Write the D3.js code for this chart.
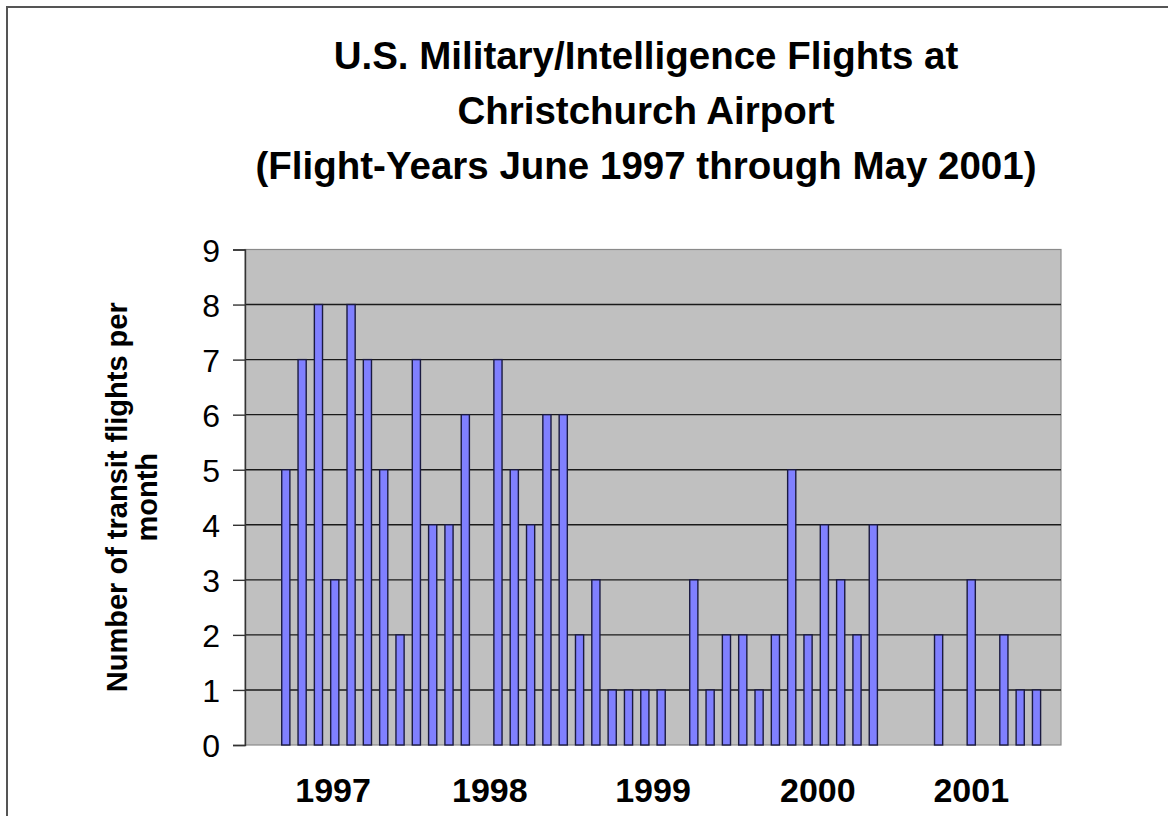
<!DOCTYPE html>
<html>
<head>
<meta charset="utf-8">
<script src="https://cdn.jsdelivr.net/npm/d3@7"></script>
<style>
    body { margin: 0; background: #ffffff; }
    text { font-family: "Liberation Sans", Arial, sans-serif; }
</style>
</head>
<body>
<svg id="chart" width="1168" height="816"></svg>
<script>
// DATA: slots Apr 1997 .. May 2001 (first two slots are empty in the source chart)
const months = [
    "Apr 97", "May 97", "Jun 97", "Jul 97", "Aug 97", "Sep 97", "Oct 97", "Nov 97", "Dec 97",
    "Jan 98", "Feb 98", "Mar 98", "Apr 98", "May 98", "Jun 98", "Jul 98", "Aug 98", "Sep 98",
    "Oct 98", "Nov 98", "Dec 98", "Jan 99", "Feb 99", "Mar 99", "Apr 99", "May 99", "Jun 99",
    "Jul 99", "Aug 99", "Sep 99", "Oct 99", "Nov 99", "Dec 99", "Jan 00", "Feb 00", "Mar 00",
    "Apr 00", "May 00", "Jun 00", "Jul 00", "Aug 00", "Sep 00", "Oct 00", "Nov 00", "Dec 00",
    "Jan 01", "Feb 01", "Mar 01", "Apr 01", "May 01"
];
const flights = [
    0, 0, 5, 7, 8, 3, 8, 7, 5, 2,
    7, 4, 4, 6, 0, 7, 5, 4, 6, 6,
    2, 3, 1, 1, 1, 1, 0, 3, 1, 2,
    2, 1, 2, 5, 2, 4, 3, 2, 4, 0,
    0, 0, 2, 0, 3, 0, 2, 1, 1, 0
];
const yTicks = [0, 1, 2, 3, 4, 5, 6, 7, 8, 9];
const yearLabels = ["1997", "1998", "1999", "2000", "2001"];
const yearSlots = [5.4, 15, 25, 35.1, 44.5];
const titleLines = [
    "U.S. Military/Intelligence Flights at",
    "Christchurch Airport",
    "(Flight-Years June 1997 through May 2001)"
];
const yTitleLines = ["Number of transit flights per", "month"];

const plot = { left: 245, right: 1061, top: 249.5, bottom: 745 };

const svg = d3.select("#chart");

// outer frame
svg.append("rect")
    .attr("x", 7)
    .attr("y", 7)
    .attr("width", 1168)
    .attr("height", 830)
    .attr("fill", "none")
    .attr("stroke", "#555555")
    .attr("stroke-width", 2);

// SCALES:
const x = d3.scaleBand()
    .domain(months)
    .range([plot.left, plot.right])
    .paddingInner(0.5)
    .paddingOuter(0.25);

const slotX = d3.scaleLinear()
    .domain([0, months.length])
    .range([plot.left, plot.right]);

const y = d3.scaleLinear()
    .domain([0, 9])
    .range([plot.bottom, plot.top]);

// plot background
svg.append("rect")
    .attr("x", plot.left)
    .attr("y", plot.top)
    .attr("width", plot.right - plot.left)
    .attr("height", plot.bottom - plot.top)
    .attr("fill", "#c0c0c0")
    .attr("stroke", "#8a8a8a")
    .attr("stroke-width", 1.2);

// gridlines
svg.append("g")
    .selectAll("line")
    .data(yTicks.filter(d => d > 0 && d < 9))
    .join("line")
        .attr("x1", plot.left)
        .attr("x2", plot.right)
        .attr("y1", d => y(d))
        .attr("y2", d => y(d))
        .attr("stroke", "#1a1a1a")
        .attr("stroke-width", 1.4);

// BARS:
svg.append("g")
    .selectAll("rect")
    .data(months.map((m, i) => ({ month: m, value: flights[i] })).filter(d => d.value > 0))
    .join("rect")
        .attr("x", d => x(d.month))
        .attr("y", d => y(d.value))
        .attr("width", x.bandwidth())
        .attr("height", d => y(0) - y(d.value))
        .attr("fill", "#8080ff")
        .attr("stroke", "#1a1a40")
        .attr("stroke-width", 1.4);

// Y AXIS:
const yAxis = svg.append("g")
    .attr("transform", `translate(${plot.left},0)`)
    .call(d3.axisLeft(y).tickValues(yTicks).tickSize(12).tickPadding(13).tickFormat(d3.format("d")));

yAxis.select(".domain")
    .attr("stroke", "#333333")
    .attr("stroke-width", 1.4);

yAxis.selectAll(".tick line")
    .attr("stroke", "#333333")
    .attr("stroke-width", 1.4);

yAxis.selectAll(".tick text")
    .attr("font-size", 32)
    .attr("fill", "#000000")
    .attr("dy", "0.36em");

// year labels below the plot
svg.append("g")
    .selectAll("text")
    .data(yearLabels)
    .join("text")
        .attr("x", (d, i) => slotX(yearSlots[i]))
        .attr("y", 802)
        .attr("text-anchor", "middle")
        .attr("font-size", 34)
        .attr("font-weight", "bold")
        .text(d => d);

// TITLES:
svg.append("g")
    .selectAll("text")
    .data(titleLines)
    .join("text")
        .attr("x", 646)
        .attr("y", (d, i) => 69 + i * 55)
        .attr("text-anchor", "middle")
        .attr("font-size", 38.5)
        .attr("font-weight", "bold")
        .text(d => d);

svg.append("g")
    .attr("transform", `translate(127,${(plot.top + plot.bottom) / 2}) rotate(-90)`)
    .selectAll("text")
    .data(yTitleLines)
    .join("text")
        .attr("x", 0)
        .attr("y", (d, i) => i * 30)
        .attr("text-anchor", "middle")
        .attr("font-size", 29)
        .attr("font-weight", "bold")
        .text(d => d);
</script>
</body>
</html>
